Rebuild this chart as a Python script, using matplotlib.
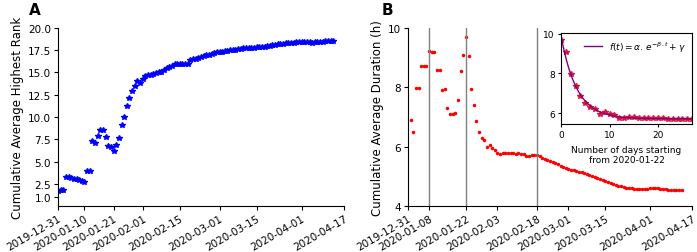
import numpy as np
import pandas as pd
import matplotlib
matplotlib.use("Agg")
import matplotlib.pyplot as plt

# panel A: cumulative average highest rank, daily from 2019-12-31
rank_start = "2019-12-31"
rank_vals = [1.72, 1.75, 1.80, 3.26, 3.26, 3.10, 3.00, 3.05, 2.90, 2.80,
             2.75, 3.93, 3.93, 7.34, 7.04, 7.90, 8.50, 8.50, 7.80, 6.70,
             6.60, 6.20, 6.80, 7.60, 9.10, 10.0, 11.2, 12.1, 12.9, 13.45,
             14.1, 13.85, 14.27, 14.57, 14.70, 14.75, 14.85, 14.95, 15.0, 15.1,
             15.25, 15.45, 15.6, 15.75, 15.95, 16.0, 15.95, 15.95, 15.9, 16.0,
             16.35, 16.5, 16.5, 16.6, 16.7, 16.85, 16.95, 17.0, 17.1, 17.15,
             17.25, 17.3, 17.35, 17.4, 17.4, 17.5, 17.5, 17.55, 17.6, 17.65,
             17.7, 17.75, 17.75, 17.8, 17.8, 17.85, 17.85, 17.9, 17.9, 17.95,
             18.0, 18.05, 18.1, 18.15, 18.2, 18.25, 18.3, 18.3, 18.35, 18.35,
             18.4, 18.4, 18.4, 18.45, 18.4, 18.4, 18.35, 18.4, 18.4, 18.45,
             18.45, 18.5, 18.5, 18.55, 18.55]
rank_xticks = ["2019-12-31", "2020-01-10", "2020-01-21", "2020-02-01", "2020-02-15",
               "2020-03-01", "2020-03-15", "2020-04-01", "2020-04-17"]
rank_yticks = [1.0, 2.5, 5.0, 7.5, 10.0, 12.5, 15.0, 17.5, 20.0]

# panel B: cumulative average duration (h), daily from 2020-01-01
dur_start = "2020-01-01"
dur_vals = [6.91, 6.48, 7.98, 7.98, 8.71, 8.71, 8.71, 9.23, 9.20, 9.20,
            8.58, 8.58, 7.90, 7.93, 7.30, 7.10, 7.10, 7.13, 7.56, 8.55,
            9.09, 9.69, 9.05, 7.96, 7.39, 6.88, 6.50, 6.30, 6.24, 5.99,
            6.05, 5.95, 5.90, 5.79, 5.76, 5.80, 5.80, 5.79, 5.78, 5.77,
            5.76, 5.78, 5.76, 5.74, 5.70, 5.70, 5.71, 5.72, 5.71, 5.68,
            5.62, 5.58, 5.55, 5.52, 5.48, 5.44, 5.40, 5.35, 5.31, 5.28,
            5.25, 5.23, 5.21, 5.19, 5.16, 5.14, 5.11, 5.08, 5.05, 5.02,
            4.98, 4.95, 4.91, 4.87, 4.84, 4.80, 4.77, 4.74, 4.71, 4.68,
            4.66, 4.63, 4.61, 4.60, 4.60, 4.59, 4.59, 4.58, 4.57, 4.57,
            4.58, 4.60, 4.61, 4.60, 4.60, 4.59, 4.57, 4.56, 4.55, 4.55,
            4.54, 4.54, 4.54, 4.54]
dur_xticks = ["2019-12-31", "2020-01-08", "2020-01-22", "2020-02-03", "2020-02-18",
              "2020-03-01", "2020-03-15", "2020-04-01", "2020-04-17"]
dur_vlines = ["2020-01-08", "2020-01-22", "2020-02-18"]
fit_from, fit_to = "2020-01-22", "2020-02-18"

plt.rcParams["font.family"] = "DejaVu Sans"
plt.rcParams["font.size"] = 7.5
plt.rcParams["xtick.major.size"] = 3
plt.rcParams["ytick.major.size"] = 3
plt.rcParams["xtick.major.pad"] = 2
plt.rcParams["ytick.major.pad"] = 2

rank_dates = pd.date_range(rank_start, periods=len(rank_vals), freq="D")
dur_dates = pd.date_range(dur_start, periods=len(dur_vals), freq="D")
dur = pd.Series(dur_vals, index=dur_dates)

fig = plt.figure(figsize=(6.97, 2.53), dpi=100)
axA = fig.add_axes([0.0832, 0.1818, 0.4103, 0.7036])
axB = fig.add_axes([0.5854, 0.1818, 0.4075, 0.7036])

# ---- A
axA.plot(rank_dates, rank_vals, "*", color="blue", markersize=4)
axA.set_xlim(pd.Timestamp(rank_xticks[0]), pd.Timestamp(rank_xticks[-1]))
axA.set_ylim(0, 20)
axA.set_xticks([pd.Timestamp(d) for d in rank_xticks])
axA.set_xticklabels(rank_xticks, rotation=30, ha="right", rotation_mode="anchor")
axA.set_yticks(rank_yticks)
axA.set_ylabel("Cumulative Average Highest Rank", fontsize=8.5, labelpad=3)
fig.text(0.042, 0.94, "A", fontsize=11, fontweight="bold")

# ---- B
axB.plot(dur_dates, dur_vals, ".", color="red", markersize=3)
for d in dur_vlines:
    axB.axvline(pd.Timestamp(d), color="gray", linewidth=1)
axB.set_xlim(pd.Timestamp(dur_xticks[0]), pd.Timestamp(dur_xticks[-1]))
axB.set_ylim(4, 10)
axB.set_xticks([pd.Timestamp(d) for d in dur_xticks])
axB.set_xticklabels(dur_xticks, rotation=30, ha="right", rotation_mode="anchor")
axB.set_yticks([4, 6, 8, 10])
axB.set_ylabel("Cumulative Average Duration (h)", fontsize=8.5, labelpad=3)
fig.text(0.548, 0.94, "B", fontsize=11, fontweight="bold")

for ax in (axA, axB):
    ax.spines["top"].set_visible(False)
    ax.spines["right"].set_visible(False)

# ---- inset: exponential fit from 2020-01-22
seg = dur[fit_from:fit_to].values
t = np.arange(len(seg))
best = None
for beta in np.linspace(0.05, 1.5, 600):
    M = np.column_stack([np.exp(-beta * t), np.ones(len(t))])
    coef = np.linalg.lstsq(M, seg, rcond=None)[0]
    err = np.sum((M @ coef - seg) ** 2)
    if best is None or err < best[0]:
        best = (err, beta, coef)
_, beta, (alpha, gamma) = best
tt = np.linspace(0, t[-1], 200)

axI = fig.add_axes([0.805, 0.506, 0.188, 0.36])
axI.plot(t, seg, "*", color="crimson", markersize=4)
axI.plot(tt, alpha * np.exp(-beta * tt) + gamma, color="purple", linewidth=1,
         label=r"$f(t) = \alpha.\,e^{-\beta.t} + \gamma$")
axI.set_xlim(0, 27)
axI.set_ylim(5.47, 10.03)
axI.set_yticks([6, 8, 10])
axI.set_xticks([0, 10, 20])
axI.tick_params(labelsize=6.5, length=2.5)
axI.set_xlabel("Number of days starting\nfrom 2020-01-22", fontsize=6.5)
axI.legend(loc="upper right", frameon=False, fontsize=6.5, handlelength=2,
           borderaxespad=0.3)

fig.savefig("out.png", dpi=100)
